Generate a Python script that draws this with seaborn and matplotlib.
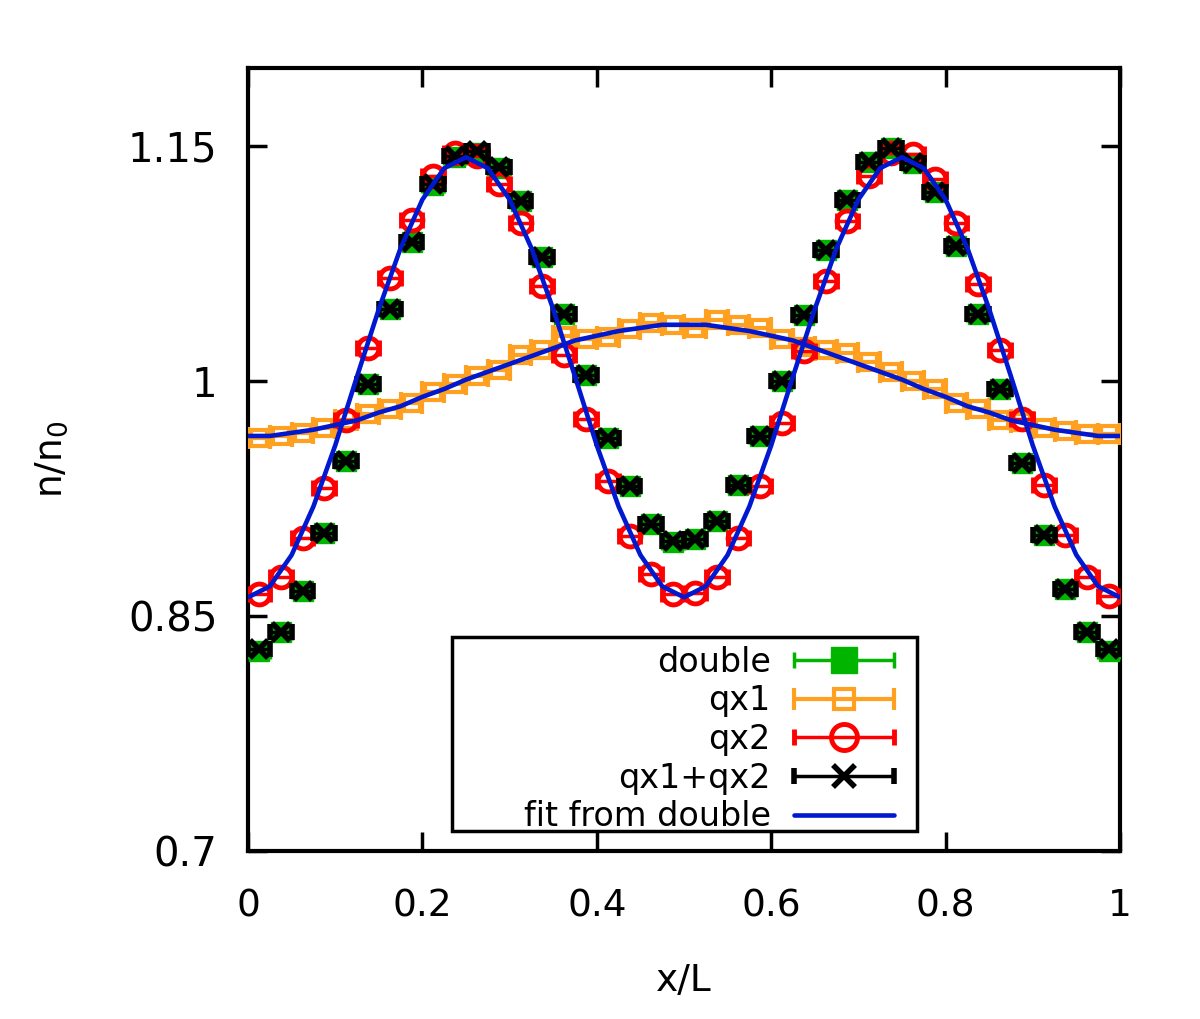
import seaborn as sns
import numpy as np
import pandas as pd
import matplotlib.pyplot as plt
from matplotlib.legend_handler import HandlerErrorbar
from matplotlib.patches import Rectangle

# bin centres (40 bins on [0, 1])
x_pts = [0.0125, 0.0375, 0.0625, 0.0875, 0.1125, 0.1375, 0.1625, 0.1875, 0.2125, 0.2375,
         0.2625, 0.2875, 0.3125, 0.3375, 0.3625, 0.3875, 0.4125, 0.4375, 0.4625, 0.4875,
         0.5125, 0.5375, 0.5625, 0.5875, 0.6125, 0.6375, 0.6625, 0.6875, 0.7125, 0.7375,
         0.7625, 0.7875, 0.8125, 0.8375, 0.8625, 0.8875, 0.9125, 0.9375, 0.9625, 0.9875]
half_bin = 0.0125

double = [0.828, 0.840, 0.866, 0.903, 0.949, 0.998, 1.046, 1.089, 1.125, 1.143,
          1.146, 1.136, 1.115, 1.079, 1.043, 1.004, 0.964, 0.933, 0.909, 0.897,
          0.899, 0.911, 0.934, 0.965, 1.000, 1.042, 1.084, 1.116, 1.140, 1.149,
          1.139, 1.121, 1.086, 1.043, 0.995, 0.948, 0.902, 0.867, 0.840, 0.828]

qx1 = [0.964, 0.965, 0.967, 0.970, 0.975, 0.979, 0.982, 0.986, 0.993, 0.998,
       1.003, 1.007, 1.017, 1.020, 1.029, 1.027, 1.028, 1.033, 1.037, 1.036,
       1.034, 1.039, 1.036, 1.034, 1.027, 1.022, 1.020, 1.018, 1.012, 1.006,
       1.000, 0.995, 0.986, 0.982, 0.975, 0.974, 0.970, 0.968, 0.966, 0.966]

qx2 = [0.864, 0.875, 0.900, 0.932, 0.975, 1.021, 1.066, 1.103, 1.131, 1.146,
       1.144, 1.126, 1.101, 1.061, 1.017, 0.976, 0.936, 0.901, 0.877, 0.864,
       0.865, 0.875, 0.900, 0.933, 0.973, 1.019, 1.064, 1.102, 1.131, 1.146,
       1.145, 1.129, 1.101, 1.062, 1.020, 0.976, 0.934, 0.902, 0.875, 0.863]

qx1_qx2 = [0.829, 0.840, 0.866, 0.903, 0.949, 0.998, 1.046, 1.089, 1.126, 1.144,
           1.147, 1.137, 1.115, 1.079, 1.043, 1.004, 0.964, 0.933, 0.909, 0.898,
           0.899, 0.911, 0.934, 0.965, 1.000, 1.042, 1.084, 1.116, 1.140, 1.149,
           1.139, 1.121, 1.086, 1.043, 0.995, 0.948, 0.902, 0.867, 0.840, 0.829]

# fit curves on a 0.025 grid
x_fit = [i / 40 for i in range(41)]
fit_big = [0.862, 0.869, 0.889, 0.920, 0.959, 1.003, 1.046, 1.085, 1.116, 1.136,
           1.143, 1.136, 1.116, 1.085, 1.046, 1.003, 0.959, 0.920, 0.889, 0.869,
           0.862, 0.869, 0.889, 0.920, 0.959, 1.003, 1.046, 1.085, 1.116, 1.136,
           1.143, 1.136, 1.116, 1.085, 1.046, 1.003, 0.959, 0.920, 0.889, 0.869, 0.862]
fit_small = [0.965, 0.965, 0.967, 0.969, 0.972, 0.975, 0.980, 0.984, 0.990, 0.995,
             1.001, 1.006, 1.011, 1.016, 1.021, 1.026, 1.029, 1.032, 1.034, 1.036,
             1.036, 1.036, 1.034, 1.032, 1.029, 1.026, 1.021, 1.016, 1.011, 1.006,
             1.001, 0.995, 0.990, 0.984, 0.980, 0.975, 0.972, 0.969, 0.967, 0.965, 0.965]

sns.set_style("ticks")
plt.rcParams["font.family"] = ["DejaVu Sans"]
plt.rcParams["text.color"] = "black"
plt.rcParams["axes.labelcolor"] = "black"
plt.rcParams["xtick.color"] = "black"
plt.rcParams["ytick.color"] = "black"

fig = plt.figure(figsize=(12, 10.19), dpi=100)
ax = fig.add_axes([0.2067, 0.1649, 0.7266, 0.7684])

green = "#00b400"
orange = "#ffa020"
red = "#ff0000"
blue = "#0018d0"

h_double = ax.errorbar(x_pts, double, xerr=half_bin, fmt="s", color=green, ms=15,
                       mec=green, mfc=green, elinewidth=2.5, capsize=6, capthick=2.5,
                       label="double", zorder=3)
h_qx1 = ax.errorbar(x_pts, qx1, xerr=half_bin, fmt="s", color=orange, ms=11,
                    mfc="none", mec=orange, mew=3, elinewidth=3, capsize=8, capthick=3,
                    label="qx1", zorder=3)
h_qx2 = ax.errorbar(x_pts, qx2, xerr=half_bin, fmt="o", color=red, ms=15,
                    mfc="none", mec=red, mew=3.5, elinewidth=2.5, capsize=6, capthick=2.5,
                    label="qx2", zorder=4)
h_sum = ax.errorbar(x_pts, qx1_qx2, xerr=half_bin, fmt="x", color="black", ms=13,
                    mew=4, elinewidth=2.5, capsize=6, capthick=2.5,
                    label="qx1+qx2", zorder=5)

df_fit = pd.DataFrame({"x": x_fit, "big": fit_big, "small": fit_small})
sns.lineplot(data=df_fit, x="x", y="big", ax=ax, color=blue, lw=3.3,
             label="fit from double", zorder=6)
sns.lineplot(data=df_fit, x="x", y="small", ax=ax, color=blue, lw=3.3, zorder=6)

ax.set_xlim(0, 1)
ax.set_ylim(0.7, 1.2)
ax.set_xticks([0, 0.2, 0.4, 0.6, 0.8, 1])
ax.set_xticklabels(["0", "0.2", "0.4", "0.6", "0.8", "1"])
ax.set_yticks([0.7, 0.85, 1.0, 1.15])
ax.set_yticklabels(["0.7", "0.85", "1", "1.15"])
ax.tick_params(direction="in", length=14, width=2.5, top=True, right=True, colors="black")
ax.tick_params(axis="y", labelsize=29, pad=22)
ax.tick_params(axis="x", labelsize=27, pad=27)
for s in ax.spines.values():
    s.set_linewidth(3)
    s.set_color("black")

ax.set_xlabel("x/L", fontsize=27, labelpad=28)
ax.set_ylabel("n/n$_0$", fontsize=27, labelpad=42)

# legend box (gnuplot-style key with wide padding)
ax.add_patch(Rectangle((0.234, 0.0255), 0.533, 0.248, transform=ax.transAxes,
                       facecolor="white", edgecolor="black", lw=2.5, zorder=9))

fit_line = [l for l in ax.get_lines() if l.get_label() == "fit from double"][0]
handles = [h_double, h_qx1, h_qx2, h_sum, fit_line]
labels = ["double", "qx1", "qx2", "qx1+qx2", "fit from double"]
leg = ax.legend(handles, labels, loc="upper right", bbox_to_anchor=(0.741, 0.262),
                markerfirst=False, fontsize=24, handlelength=3.0, labelspacing=0.17,
                frameon=False, borderpad=0, handletextpad=0.7, borderaxespad=0,
                markerscale=1.25,
                handler_map={type(h_double): HandlerErrorbar(xerr_size=1.5)})
leg.set_zorder(10)
for t in leg.get_texts():
    t.set_ha("right")
leg._legend_box.align = "right"

fig.savefig("out.png", dpi=100)
